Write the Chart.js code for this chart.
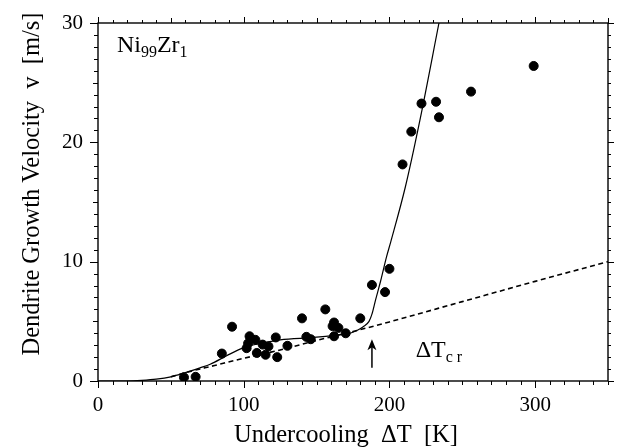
<!DOCTYPE html>
<html>
<head>
    <title>Dendrite growth velocity Ni99Zr1</title>
    <script src="https://cdn.jsdelivr.net/npm/chart.js"></script>
    <style>
        body { margin: 0; background: #fff; }
        #wrap { width: 617px; height: 447px; }
    </style>
</head>
<body>
    <div id="wrap"><canvas id="chart"></canvas></div>

    <script>
        // measured points (undercooling K, velocity m/s)
        const pointX = [59, 67, 85, 92, 102, 103, 104, 108, 109, 113, 115, 117, 122, 123, 130, 140, 143, 146,
                        156, 162, 161, 165, 162, 170, 180, 188, 197, 200, 209, 215, 222, 232, 234, 256, 299];
        const pointY = [0.3, 0.35, 2.3, 4.55, 2.75, 3.15, 3.75, 3.45, 2.35, 3.05, 2.2, 2.9, 3.65, 2.0, 2.95, 5.25, 3.7, 3.5,
                        6.0, 4.9, 4.6, 4.45, 3.75, 4.0, 5.25, 8.05, 7.45, 9.4, 18.15, 20.9, 23.25, 23.4, 22.1, 24.25, 26.4];

        // model curve (solid)
        const modelX = [0, 20, 30, 40, 50, 60, 70, 77, 88, 100, 112, 125, 148, 164, 173, 178, 182, 186, 188, 190.5,
                        194, 198, 201, 211, 221, 234];
        const modelY = [0, 0, 0.05, 0.15, 0.35, 0.7, 1.1, 1.4, 2.1, 2.8, 3.15, 3.45, 3.65, 3.85, 4.0, 4.25, 4.55, 5.0, 5.6, 6.8,
                        8.4, 10.4, 11.7, 16.3, 21.9, 30];

        // dashed curve
        const dashX = [50, 60, 80, 100, 125, 150, 175, 200, 225, 250, 300, 350];
        const dashY = [0.35, 0.7, 1.3, 1.9, 2.6, 3.4, 4.15, 4.95, 5.8, 6.65, 8.35, 10.0];

        const xTicks = [0, 100, 200, 300];
        const yTicks = [0, 10, 20, 30];
        const criticalT = 188;

        const toXY = (xs, ys) => xs.map((x, i) => ({ x: x, y: ys[i] }));
        const serif = "'Liberation Serif', 'DejaVu Serif', serif";

        function drawSub(ctx, parts, x, y) {
            // parts: [text, isSub]
            parts.forEach(p => {
                ctx.font = p[1] ? "16px " + serif : "24px " + serif;
                ctx.fillText(p[0], x, p[1] ? y + 5 : y);
                x += ctx.measureText(p[0]).width;
            });
        }

        const framePlugin = {
            id: "frame",
            afterDraw(chart) {
                const ctx = chart.ctx;
                const a = chart.chartArea;
                const xs = chart.scales.x, ys = chart.scales.y;
                ctx.save();
                ctx.strokeStyle = "#000";
                ctx.fillStyle = "#000";
                ctx.lineWidth = 1.4;
                ctx.strokeRect(a.left, a.top, a.right - a.left, a.bottom - a.top);

                ctx.lineWidth = 1;
                ctx.beginPath();
                for (let v = 0; v <= 350; v += 10) {
                    const px = Math.round(xs.getPixelForValue(v)) + 0.5;
                    const big = v % 100 === 0;
                    const half = v % 50 === 0;
                    ctx.moveTo(px, a.bottom); ctx.lineTo(px, a.bottom + (big ? 7 : 4));
                    ctx.moveTo(px, a.top); ctx.lineTo(px, a.top - (big ? 6 : half ? 5 : 3));
                }
                for (let v = 0; v <= 30; v += 1) {
                    const py = Math.round(ys.getPixelForValue(v)) + 0.5;
                    const big = v % 10 === 0;
                    const half = v % 5 === 0;
                    ctx.moveTo(a.left, py); ctx.lineTo(a.left - (big ? 8 : half ? 5 : 4), py);
                    ctx.moveTo(a.right, py); ctx.lineTo(a.right + (big ? 6 : 3), py);
                }
                ctx.stroke();

                // arrow at the critical undercooling
                const ax = xs.getPixelForValue(criticalT);
                const y0 = ys.getPixelForValue(1.1), y1 = ys.getPixelForValue(3.5);
                ctx.lineWidth = 1.5;
                ctx.beginPath();
                ctx.moveTo(ax, y0); ctx.lineTo(ax, y1 + 4);
                ctx.stroke();
                ctx.beginPath();
                ctx.moveTo(ax, y1); ctx.lineTo(ax - 4.5, y1 + 11); ctx.lineTo(ax, y1 + 8); ctx.lineTo(ax + 4.5, y1 + 11);
                ctx.closePath();
                ctx.fill();

                ctx.textBaseline = "alphabetic";
                ctx.textAlign = "left";
                drawSub(ctx, [["Ni", 0], ["99", 1], ["Zr", 0], ["1", 1]], xs.getPixelForValue(13), ys.getPixelForValue(27.6));
                drawSub(ctx, [["\u0394T", 0], ["c r", 1]], xs.getPixelForValue(218), ys.getPixelForValue(2.0));

                // axis titles
                ctx.font = "24.5px " + serif;
                ctx.textAlign = "center";
                ctx.textBaseline = "middle";
                ctx.fillText("Undercooling  \u0394T  [K]", 346, 436);
                ctx.translate(33, 184);
                ctx.rotate(-Math.PI / 2);
                ctx.fillText("Dendrite Growth Velocity  v  [m/s]", 0, 0);
                ctx.restore();
            }
        };

        new Chart(document.getElementById("chart"), {
            type: "scatter",
            data: {
                datasets: [
                    {
                        label: "data",
                        data: toXY(pointX, pointY),
                        backgroundColor: "#000",
                        borderColor: "#000",
                        pointRadius: 4.5,
                        showLine: false
                    },
                    {
                        label: "model",
                        data: toXY(modelX, modelY),
                        borderColor: "#000",
                        borderWidth: 1.2,
                        pointRadius: 0,
                        showLine: true,
                        cubicInterpolationMode: "monotone"
                    },
                    {
                        label: "linear",
                        data: toXY(dashX, dashY),
                        borderColor: "#000",
                        borderWidth: 1.6,
                        borderDash: [5, 3.5],
                        pointRadius: 0,
                        showLine: true,
                        cubicInterpolationMode: "monotone"
                    }
                ]
            },
            options: {
                responsive: true,
                maintainAspectRatio: false,
                animation: false,
                layout: { padding: { left: 0, right: 9, top: 23, bottom: 0 } },
                plugins: { legend: { display: false }, tooltip: { enabled: false } },
                scales: {
                    x: {
                        type: "linear",
                        min: 0,
                        max: 350,
                        grid: { display: false },
                        border: { display: false },
                        afterBuildTicks: s => { s.ticks = xTicks.map(v => ({ value: v })); },
                        afterFit: s => { s.height = 66; },
                        ticks: { color: "#000", padding: 4, font: { family: serif, size: 21 } }
                    },
                    y: {
                        min: 0,
                        max: 30,
                        grid: { display: false },
                        border: { display: false },
                        afterBuildTicks: s => { s.ticks = yTicks.map(v => ({ value: v })); },
                        afterFit: s => { s.width = 98; },
                        ticks: { color: "#000", padding: 7, font: { family: serif, size: 21 } }
                    }
                }
            },
            plugins: [framePlugin]
        });
    </script>
</body>
</html>
